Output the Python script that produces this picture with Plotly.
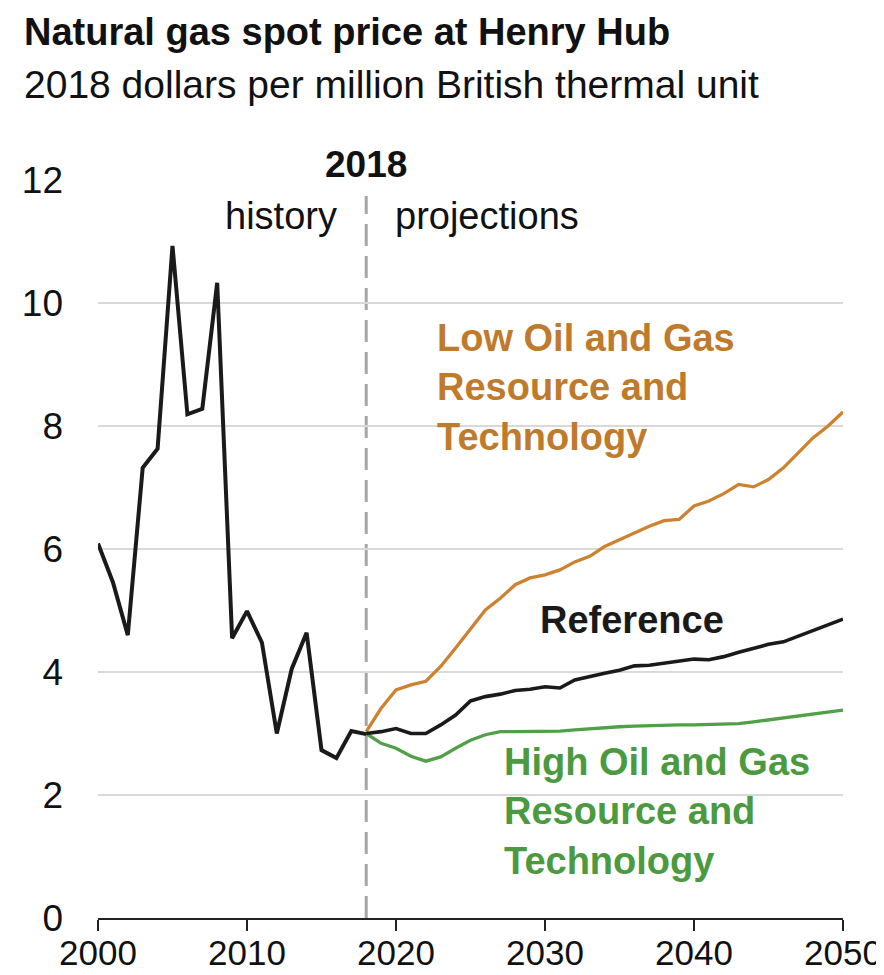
import plotly.graph_objects as go

# historical Henry Hub spot price, 2018 $/MMBtu
hist_years = list(range(2000, 2019))
hist_price = [6.09, 5.46, 4.60, 7.32, 7.63, 10.93, 8.19, 8.28, 10.33, 4.55,
              4.99, 4.48, 3.00, 4.05, 4.64, 2.73, 2.60, 3.04, 2.99]

# projections 2018-2050
proj_years = list(range(2018, 2051))
reference = [3.00, 3.03, 3.08, 3.00, 3.00, 3.14, 3.30, 3.53, 3.60, 3.64, 3.70,
             3.72, 3.76, 3.74, 3.87, 3.93, 3.98, 4.03, 4.10, 4.11, 4.14, 4.17,
             4.21, 4.20, 4.25, 4.32, 4.39, 4.45, 4.49, 4.58, 4.67, 4.77, 4.86]
low_resource = [3.03, 3.41, 3.71, 3.79, 3.85, 4.09, 4.39, 4.71, 5.01, 5.20, 5.42,
                5.53, 5.58, 5.66, 5.79, 5.88, 6.04, 6.15, 6.26, 6.37, 6.46, 6.48,
                6.70, 6.78, 6.90, 7.05, 7.01, 7.13, 7.32, 7.57, 7.81, 8.00, 8.23]
high_resource = [3.00, 2.84, 2.76, 2.63, 2.55, 2.62, 2.76, 2.89, 2.98, 3.03, 3.03,
                 3.03, 3.03, 3.04, 3.06, 3.08, 3.09, 3.11, 3.12, 3.13, 3.14, 3.14,
                 3.14, 3.15, 3.15, 3.16, 3.19, 3.22, 3.25, 3.28, 3.31, 3.35, 3.38]

y_ticks = [0, 2, 4, 6, 8, 10, 12]
x_ticks = [2000, 2010, 2020, 2030, 2040, 2050]

ORANGE_LINE = "#CD822F"
ORANGE_TEXT = "#C07A2C"
GREEN_LINE = "#4FA046"
GREEN_TEXT = "#4B9A3F"
BLACK = "#1a1a1a"
FONT = "Liberation Sans, Arial, sans-serif"

fig = go.Figure()

fig.add_trace(go.Scatter(x=proj_years, y=low_resource, mode="lines",
                         line=dict(color=ORANGE_LINE, width=3.3), cliponaxis=False))
fig.add_trace(go.Scatter(x=proj_years, y=high_resource, mode="lines",
                         line=dict(color=GREEN_LINE, width=3.3), cliponaxis=False))
fig.add_trace(go.Scatter(x=proj_years, y=reference, mode="lines",
                         line=dict(color=BLACK, width=3.6), cliponaxis=False))
fig.add_trace(go.Scatter(x=hist_years, y=hist_price, mode="lines",
                         line=dict(color=BLACK, width=4), cliponaxis=False))

# 2018 divider
fig.add_shape(type="line", x0=2018, x1=2018, y0=0, y1=11.74,
              line=dict(color="#a6a6a6", width=3, dash="22px,10px"), layer="below")

anns = [
    dict(text="<b>Natural gas spot price at Henry Hub</b>", xref="paper", yref="paper",
         x=-0.102, y=(910.3 - 24) / 738, xanchor="left", yanchor="middle",
         font=dict(size=38, color="#111111")),
    dict(text="2018 dollars per million British thermal unit", xref="paper", yref="paper",
         x=-0.102, y=(910.3 - 77) / 738, xanchor="left", yanchor="middle",
         font=dict(size=39, color="#111111")),
    dict(text="<b>2018</b>", yref="paper", x=2018, y=(910.3 - 157) / 738,
         xanchor="center", yanchor="middle", font=dict(size=37, color="#111111")),
    dict(text="history", x=2018, y=11.42, xshift=-27, xanchor="right", yanchor="middle",
         font=dict(size=38, color="#111111")),
    dict(text="projections", x=2018, y=11.42, xshift=27, xanchor="left", yanchor="middle",
         font=dict(size=38, color="#111111")),
    dict(text="<b>Low Oil and Gas<br>Resource and<br>Technology</b>", x=2022.6, y=8.62,
         xanchor="left", yanchor="middle", align="left",
         font=dict(size=38, color=ORANGE_TEXT)),
    dict(text="<b>Reference</b>", x=2029.5, y=4.85, xanchor="left", yanchor="middle",
         font=dict(size=38, color=BLACK)),
    dict(text="<b>High Oil and Gas<br>Resource and<br>Technology</b>", x=2027.1, y=1.73,
         xanchor="left", yanchor="middle", align="left",
         font=dict(size=38, color=GREEN_TEXT)),
]
for a in anns:
    a.setdefault("xref", "x")
    a.setdefault("yref", "y")
    a["showarrow"] = False
    fig.add_annotation(**a)

fig.update_layout(
    width=884, height=975,
    margin=dict(l=90, r=49, t=172, b=65),
    paper_bgcolor="white", plot_bgcolor="white",
    showlegend=False,
    font=dict(family=FONT, size=37, color="#111111"),
    xaxis=dict(range=[2000, 2050], tickvals=x_ticks, showgrid=False, zeroline=False,
               showline=True, linecolor="#222222", linewidth=1.5,
               ticks="outside", ticklen=11, tickwidth=1.5, tickcolor="#222222",
               tickfont=dict(size=35), ticklabelstandoff=-8, automargin=False),
    yaxis=dict(range=[0, 12], tickvals=y_ticks, showgrid=True, gridcolor="#d9d9d9",
               gridwidth=1.5, zeroline=False, showline=False, ticks="",
               tickfont=dict(size=37), ticklabelstandoff=34, automargin=False),
)

fig.write_html("out.html")
